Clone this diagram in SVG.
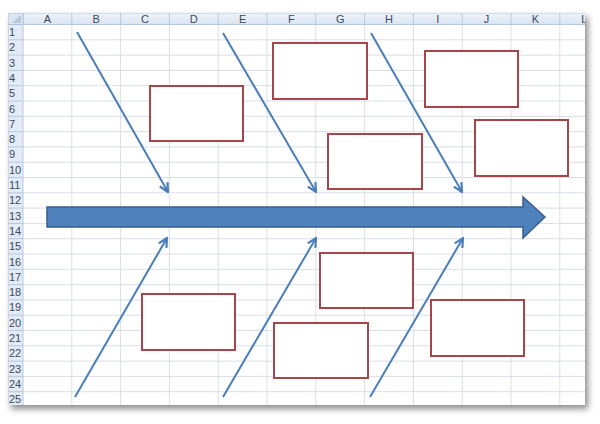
<svg xmlns="http://www.w3.org/2000/svg" width="600" height="424" viewBox="0 0 600 424">
<defs>
<style>
.grid{stroke:#D9DFE8;stroke-width:1;fill:none}
.hl{font-family:"Liberation Sans",Arial,sans-serif;font-size:11px;fill:#3B4A5E;text-anchor:middle}
.rl{font-family:"Liberation Sans",Arial,sans-serif;font-size:11px;fill:#3B4A5E;text-anchor:start}
.box{fill:#FFFFFF;stroke:#A5474A;stroke-width:2}
.bone{stroke:#4A7EBB;stroke-width:2;fill:none;marker-end:url(#ah)}
</style>
<marker id="ah" viewBox="0 0 10 10" refX="9" refY="5" markerWidth="11" markerHeight="11" markerUnits="userSpaceOnUse" orient="auto">
<path d="M1,1 L9,5 L1,9" fill="none" stroke="#4A7EBB" stroke-width="2" stroke-linejoin="miter"/>
</marker>
<linearGradient id="hg" x1="0" y1="0" x2="0" y2="1">
<stop offset="0" stop-color="#EEF3FA"/>
<stop offset="1" stop-color="#DAE4F1"/>
</linearGradient>
<filter id="sh" x="-5%" y="-5%" width="112%" height="115%">
<feDropShadow dx="3" dy="4" stdDeviation="3" flood-color="#000" flood-opacity="0.45"/>
</filter>
<clipPath id="sc"><rect x="8" y="13" width="577" height="392"/></clipPath>
</defs>
<rect width="600" height="424" fill="#FFFFFF"/>
<g id="sheet">
<rect x="8" y="13" width="577" height="392" fill="#FFFFFF" filter="url(#sh)"/>
<g clip-path="url(#sc)">
<path class="grid" d="M71.8,24.5V405M120.6,24.5V405M169.4,24.5V405M218.2,24.5V405M267,24.5V405M315.8,24.5V405M364.6,24.5V405M413.4,24.5V405M462.2,24.5V405M511,24.5V405M559.8,24.5V405
M23,39.8H585M23,55.1H585M23,70.4H585M23,85.7H585M23,101H585M23,116.3H585M23,131.6H585M23,146.9H585M23,162.2H585M23,177.5H585M23,192.8H585M23,208.1H585M23,223.4H585M23,238.7H585M23,254H585M23,269.3H585M23,284.6H585M23,299.9H585M23,315.2H585M23,330.5H585M23,345.8H585M23,361.1H585M23,376.4H585M23,391.7H585"/>
<rect x="23" y="13" width="570" height="11.5" fill="url(#hg)" stroke="#A9BDD6" stroke-width="0.8"/>
<path d="M71.8,13V24.5M120.6,13V24.5M169.4,13V24.5M218.2,13V24.5M267,13V24.5M315.8,13V24.5M364.6,13V24.5M413.4,13V24.5M462.2,13V24.5M511,13V24.5M559.8,13V24.5" stroke="#B8C9DE" stroke-width="1"/>
<rect x="8" y="24.5" width="15" height="385" fill="#E3EBF6" stroke="#A9BDD6" stroke-width="0.8"/>
<path d="M8,39.8H23M8,55.1H23M8,70.4H23M8,85.7H23M8,101H23M8,116.3H23M8,131.6H23M8,146.9H23M8,162.2H23M8,177.5H23M8,192.8H23M8,208.1H23M8,223.4H23M8,238.7H23M8,254H23M8,269.3H23M8,284.6H23M8,299.9H23M8,315.2H23M8,330.5H23M8,345.8H23M8,361.1H23M8,376.4H23M8,391.7H23" stroke="#B8C9DE" stroke-width="1"/>
<rect x="8" y="13" width="15" height="11.5" fill="#DCE6F2" stroke="#A9BDD6" stroke-width="0.8"/>
<path d="M12,23 L21,23 L21,15 Z" fill="#B7C7DC"/>
<text class="hl" x="47.4" y="22.5">A</text>
<text class="hl" x="96.2" y="22.5">B</text>
<text class="hl" x="145" y="22.5">C</text>
<text class="hl" x="193.8" y="22.5">D</text>
<text class="hl" x="242.6" y="22.5">E</text>
<text class="hl" x="291.4" y="22.5">F</text>
<text class="hl" x="340.2" y="22.5">G</text>
<text class="hl" x="389" y="22.5">H</text>
<text class="hl" x="437.8" y="22.5">I</text>
<text class="hl" x="486.6" y="22.5">J</text>
<text class="hl" x="535.4" y="22.5">K</text>
<text class="hl" x="584.2" y="22.5">L</text>
<text class="rl" x="9" y="36">1</text>
<text class="rl" x="9" y="51.3">2</text>
<text class="rl" x="9" y="66.6">3</text>
<text class="rl" x="9" y="81.9">4</text>
<text class="rl" x="9" y="97.2">5</text>
<text class="rl" x="9" y="112.5">6</text>
<text class="rl" x="9" y="127.8">7</text>
<text class="rl" x="9" y="143.1">8</text>
<text class="rl" x="9" y="158.4">9</text>
<text class="rl" x="9" y="173.7">10</text>
<text class="rl" x="9" y="189">11</text>
<text class="rl" x="9" y="204.3">12</text>
<text class="rl" x="9" y="219.6">13</text>
<text class="rl" x="9" y="234.9">14</text>
<text class="rl" x="9" y="250.2">15</text>
<text class="rl" x="9" y="265.5">16</text>
<text class="rl" x="9" y="280.8">17</text>
<text class="rl" x="9" y="296.1">18</text>
<text class="rl" x="9" y="311.4">19</text>
<text class="rl" x="9" y="326.7">20</text>
<text class="rl" x="9" y="342">21</text>
<text class="rl" x="9" y="357.3">22</text>
<text class="rl" x="9" y="372.6">23</text>
<text class="rl" x="9" y="387.9">24</text>
<text class="rl" x="9" y="403.2">25</text>
</g>
</g>
<g id="connectors">
<line class="bone" x1="77" y1="32" x2="168" y2="192"/>
<line class="bone" x1="223" y1="33" x2="316" y2="192"/>
<line class="bone" x1="371" y1="33" x2="462" y2="192"/>
<line class="bone" x1="75" y1="397" x2="167" y2="238"/>
<line class="bone" x1="223" y1="397" x2="316" y2="238"/>
<line class="bone" x1="370" y1="397" x2="463" y2="238"/>
</g>
<g id="spine">
<path d="M47,207 L523,207 L523,197 L545,217 L523,238 L523,227 L47,227 Z" fill="#4F81BD" stroke="#385D8A" stroke-width="1.5" stroke-linejoin="miter"/>
</g>
<g id="box1"><rect class="box" x="150" y="86" width="93" height="55"/></g>
<g id="box2"><rect class="box" x="273" y="43" width="94" height="56"/></g>
<g id="box3"><rect class="box" x="425" y="51" width="93" height="56"/></g>
<g id="box4"><rect class="box" x="328" y="134" width="94" height="55"/></g>
<g id="box5"><rect class="box" x="475" y="120" width="93" height="56"/></g>
<g id="box6"><rect class="box" x="320" y="253" width="93" height="55"/></g>
<g id="box7"><rect class="box" x="142" y="294" width="93" height="56"/></g>
<g id="box8"><rect class="box" x="274" y="323" width="94" height="55"/></g>
<g id="box9"><rect class="box" x="431" y="300" width="93" height="56"/></g>
</svg>
